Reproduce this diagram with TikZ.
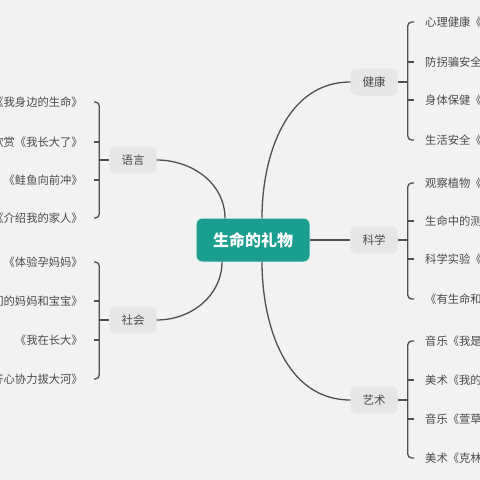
\documentclass[tikz,border=0pt]{standalone}
\usepackage{fontspec}
\setmainfont{Noto Sans CJK SC}
\usetikzlibrary{positioning,calc}
\definecolor{bgc}{HTML}{F2F2F2}
\definecolor{teal0}{HTML}{1A9E8F}
\definecolor{linec}{HTML}{505050}
\definecolor{boxc}{HTML}{E6E6E6}
\definecolor{textc}{HTML}{4A4A4A}

\begin{document}
\begin{tikzpicture}[
    x=1pt, y=-1pt,
    root/.style={rectangle, rounded corners=6pt, fill=teal0, text=white, font=\bfseries\fontsize{16}{16}\selectfont, minimum width=113pt, minimum height=43pt},
    topic/.style={rectangle, rounded corners=6pt, fill=boxc, text=textc, font=\fontsize{11.5}{12}\selectfont, minimum width=47pt, minimum height=27pt},
    leafl/.style={anchor=east, inner sep=0pt, text=textc, font=\fontsize{11.3}{12}\selectfont},
    leafr/.style={anchor=west, inner sep=0pt, text=textc, font=\fontsize{11.3}{12}\selectfont},
    link/.style={draw=linec, line width=1.3pt}
]
    \clip (0,0) rectangle (480,480);
    \fill[bgc] (0,0) rectangle (480,480);

    % centre and topics
    \node[root] (gift) at (253,240) {生命的礼物};
    \node[topic] (yuyan) at (133,160) {语言};
    \node[topic] (shehui) at (133,320) {社会};
    \node[topic] (jiankang) at (374,82) {健康};
    \node[topic] (kexue) at (374,240) {科学};
    \node[topic] (yishu) at (374,400) {艺术};

    % curves from the centre
    \draw[link] ([xshift=-28pt]gift.north) to[out=90,in=0] (yuyan.east);
    \draw[link] ([xshift=-31pt]gift.south) to[out=-90,in=0] (shehui.east);
    \draw[link] ([xshift=9pt]gift.north) to[out=90,in=180] (jiankang.west);
    \draw[link] (gift.east) -- (kexue.west);
    \draw[link] ([xshift=9pt]gift.south) to[out=-90,in=180] (yishu.west);

    % left leaves
    \foreach \i/\y/\t in {1/102/《我身边的生命》, 2/142/欣赏《我长大了》, 3/180/《鲑鱼向前冲》, 4/218/《介绍我的家人》}
        \node[leafl] (ya\i) at (83,\y) {\t};
    \foreach \i/\y/\t in {1/262/《体验孕妈妈》, 2/301/们的妈妈和宝宝》, 3/340/《我在长大》, 4/379/齐心协力拔大河》}
        \node[leafl] (sh\i) at (83,\y) {\t};

    % right leaves
    \foreach \i/\y/\t in {1/22/心理健康《, 2/62/防拐骗安全, 3/100/身体保健《, 4/140/生活安全《}
        \node[leafr] (jk\i) at (425,\y) {\t};
    \foreach \i/\y/\t in {1/183/观察植物《, 2/221/生命中的测, 3/259/科学实验《, 4/299/《有生命和}
        \node[leafr] (kx\i) at (425,\y) {\t};
    \foreach \i/\y/\t in {1/341/音乐《我是, 2/380/美术《我的, 3/419/音乐《萱草, 4/458/美术《克林}
        \node[leafr] (ys\i) at (425,\y) {\t};

    % brackets, left side
    \foreach \g/\n in {ya/yuyan, sh/shehui} {
        \coordinate (\g br) at ([xshift=-10pt]\n.west);
        \draw[link, rounded corners=4pt] ([xshift=11pt]\g1.east) -| (\g br) |- ([xshift=11pt]\g4.east);
        \draw[link] ([xshift=11pt]\g2.east) -- (\g2.east -| \g br);
        \draw[link] ([xshift=11pt]\g3.east) -- (\g3.east -| \g br);
        \draw[link] (\g br) -- (\n.west);
    }

    % brackets, right side
    \foreach \g/\n in {jk/jiankang, kx/kexue, ys/yishu} {
        \coordinate (\g br) at ([xshift=10pt]\n.east);
        \draw[link, rounded corners=4pt] ([xshift=-11pt]\g1.west) -| (\g br) |- ([xshift=-11pt]\g4.west);
        \draw[link] ([xshift=-11pt]\g2.west) -- (\g2.west -| \g br);
        \draw[link] ([xshift=-11pt]\g3.west) -- (\g3.west -| \g br);
        \draw[link] (\g br) -- (\n.east);
    }
\end{tikzpicture}
\end{document}
